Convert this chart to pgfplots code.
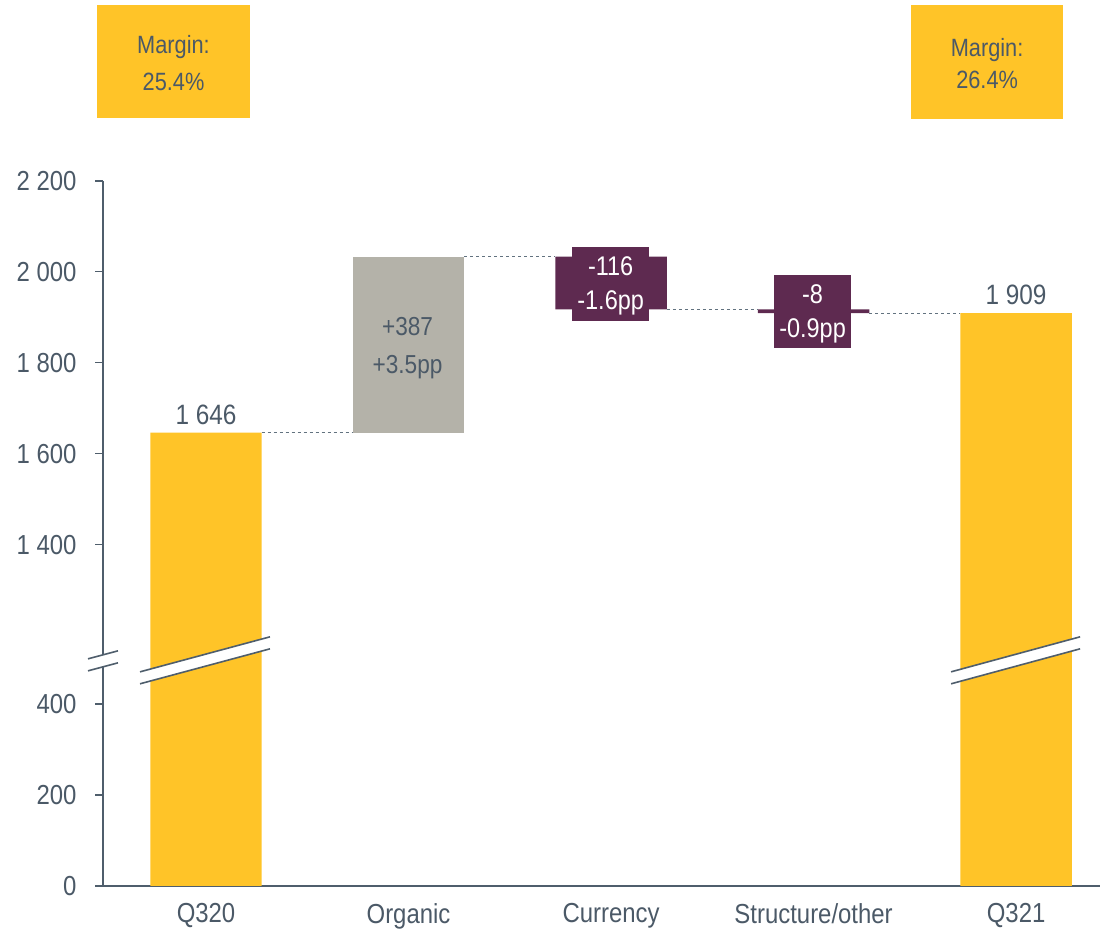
\documentclass[border=0pt]{standalone}
\usepackage{pgfplots}
\pgfplotsset{compat=1.18}
\usepackage{pgfplotstable}
\usepackage{fontspec}
\setmainfont{Liberation Sans}[FakeStretch=0.87]
\definecolor{yel}{HTML}{FFC428}
\definecolor{gry}{HTML}{B4B2A9}
\definecolor{pur}{HTML}{5E2A50}
\definecolor{txt}{HTML}{4B5967}
\definecolor{axc}{HTML}{4F5E6C}
\definecolor{dsh}{HTML}{62727F}

% broken axis: values >= 1400 are plotted at (value - 650)
% Q320 = 1646, Organic +387 -> 2033, Currency -116 -> 1917, Structure/other -8 -> 1909, Q321 = 1909
\pgfplotstableread{
x base yel gry pur
0 0    996  0   0
1 996  0    387 0
2 1267 0    0   116
3 1259 0    0   8
4 0    1259 0   0
}\data

\begin{document}
\begin{tikzpicture}
\begin{axis}[
  scale only axis, width=997pt, height=705pt,
  xmin=-0.5086, xmax=4.4148, ymin=0, ymax=1550,
  axis x line=bottom, axis y line=left,
  axis line style={-, draw=axc, line width=1.6pt},
  ybar stacked, bar width=0.55,
  xtick={0,1,2,3,4},
  xticklabels={Q320,Organic,Currency,Structure/other,Q321},
  ytick={0,200,400,750,950,1150,1350,1550},
  yticklabels={0,200,400,1 400,1 600,1 800,2 000,2 200},
  tick align=outside,
  major tick length=8pt,
  y tick style={draw=axc, line width=1.6pt},
  x tick style={draw=none},
  ticklabel style={font=\fontsize{27.5}{32}\selectfont, text=txt},
  yticklabel style={xshift=-15pt},
  xticklabel style={yshift=-6pt},
  clip=false,
]
\addplot[fill=none, draw=none] table[x=x, y=base] {\data};
\addplot[fill=yel, draw=none] table[x=x, y=yel] {\data};
\addplot[fill=gry, draw=none] table[x=x, y=gry] {\data};
\addplot[fill=pur, draw=none] table[x=x, y=pur] {\data};
\coordinate (O) at (axis cs:0,0);
\end{axis}
\begin{scope}[shift={(O)}, x=202.5pt, y=0.454839pt]
% connectors
\draw[dsh, dashed, line width=0.8pt] (0.275,996) -- (0.725,996);
\draw[dsh, dashed, line width=0.8pt] (1.275,1383) -- (1.725,1383);
\draw[dsh, dashed, line width=0.8pt] (2.275,1267) -- (2.725,1267);
\draw[dsh, dashed, line width=0.8pt] (3.275,1259) -- (3.725,1259);

% purple label boxes
\fill[pur] (1.807,1404.4) rectangle (2.188,1241.8);
\fill[pur] (2.805,1342.9) rectangle (3.185,1182.4);

% margin boxes
\fill[yel] (-0.5383,1936.3) rectangle (0.2173,1687.9);
\fill[yel] (3.4815,1936.3) rectangle (4.232,1685.7);

% axis break
\fill[white] (-0.5827,498.9) -- (-0.4346,516.5) -- (-0.4346,490.1) -- (-0.5827,472.5) -- cycle;
\draw[axc, line width=1.6pt] (-0.5827,498.9) -- (-0.4346,516.5);
\draw[axc, line width=1.6pt] (-0.5827,472.5) -- (-0.4346,490.1);
% bar breaks
\fill[white] (-0.3259,470.3) -- (0.3160,547.3) -- (0.3160,520.9) -- (-0.3259,444.0) -- cycle;
\draw[axc, line width=1.6pt] (-0.3259,470.3) -- (0.3160,547.3);
\draw[axc, line width=1.6pt] (-0.3259,444.0) -- (0.3160,520.9);
\fill[white] (3.679,470.3) -- (4.316,547.3) -- (4.316,520.9) -- (3.679,444.0) -- cycle;
\draw[axc, line width=1.6pt] (3.679,470.3) -- (4.316,547.3);
\draw[axc, line width=1.6pt] (3.679,444.0) -- (4.316,520.9);

% value labels
\node[anchor=base, text=txt, font=\fontsize{28}{30}\selectfont] at (0,1014) {1 646};
\node[anchor=base, text=txt, font=\fontsize{28}{30}\selectfont] at (4,1277) {1 909};
\node[anchor=base, text=txt, font=\fontsize{26}{30}\selectfont] at (0.995,1208.8) {+387};
\node[anchor=base, text=txt, font=\fontsize{26}{30}\selectfont] at (0.995,1125.3) {+3.5pp};
\node[anchor=base, text=white, font=\fontsize{27}{30}\selectfont] at (1.998,1341.8) {-116};
\node[anchor=base, text=white, font=\fontsize{27}{30}\selectfont] at (1.998,1267) {-1.6pp};
\node[anchor=base, text=white, font=\fontsize{27}{30}\selectfont] at (2.995,1280.2) {-8};
\node[anchor=base, text=white, font=\fontsize{27}{30}\selectfont] at (2.995,1205.5) {-0.9pp};
\node[anchor=base, text=txt, font=\fontsize{25}{30}\selectfont] at (-0.1605,1828.6) {Margin:};
\node[anchor=base, text=txt, font=\fontsize{25}{30}\selectfont] at (-0.1605,1747.3) {25.4\%};
\node[anchor=base, text=txt, font=\fontsize{25}{30}\selectfont] at (3.857,1822) {Margin:};
\node[anchor=base, text=txt, font=\fontsize{25}{30}\selectfont] at (3.857,1753.8) {26.4\%};

\coordinate (bl) at (-1.0173,-103.3);
\coordinate (tr) at (4.444,1947.3);
\end{scope}
\pgfresetboundingbox
\path[use as bounding box] (bl) rectangle (tr);
\end{tikzpicture}
\end{document}
